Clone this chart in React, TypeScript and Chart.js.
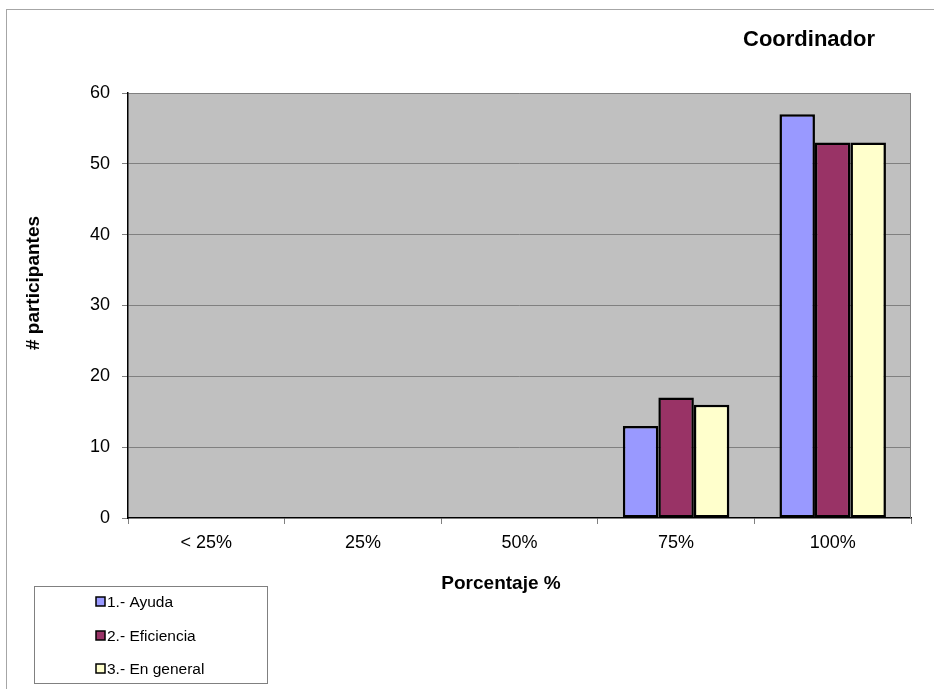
import React, { useEffect, useRef } from "react";
import { Chart, registerables } from "chart.js";

Chart.register(...registerables);

const categories = ["< 25%", "25%", "50%", "75%", "100%"];
const seriesNames = ["1.- Ayuda", "2.- Eficiencia", "3.- En general"];
const ayuda = [0, 0, 0, 13, 57];
const eficiencia = [0, 0, 0, 17, 53];
const enGeneral = [0, 0, 0, 16, 53];
const seriesColors = ["#9999FF", "#993366", "#FFFFCC"];
const yTicks = [0, 10, 20, 30, 40, 50, 60];
const chartTitle = "Coordinador";
const xTitle = "Porcentaje %";
const yTitle = "# participantes";

const FONT = "'Liberation Sans', Arial, sans-serif";

const decorPlugin = {
  id: "decor",
  beforeDraw(chart: any) {
    const { ctx, chartArea } = chart;
    ctx.save();
    ctx.fillStyle = "#ffffff";
    ctx.fillRect(0, 0, chart.width, chart.height);
    ctx.strokeStyle = "#a6a6a6";
    ctx.lineWidth = 1;
    ctx.strokeRect(6.5, 9.5, chart.width + 20, chart.height + 20);
    ctx.fillStyle = "#C0C0C0";
    ctx.fillRect(chartArea.left, chartArea.top, chartArea.right - chartArea.left, chartArea.bottom - chartArea.top);
    ctx.restore();
  },
  afterDraw(chart: any) {
    const { ctx, chartArea } = chart;
    ctx.save();
    ctx.strokeStyle = "#808080";
    ctx.lineWidth = 1;
    ctx.beginPath();
    ctx.moveTo(chartArea.right - 0.5, chartArea.top);
    ctx.lineTo(chartArea.right - 0.5, chartArea.bottom);
    ctx.stroke();

    ctx.fillStyle = "#000";
    ctx.textAlign = "center";
    ctx.textBaseline = "middle";
    ctx.font = `bold 22px ${FONT}`;
    ctx.fillText(chartTitle, 809, 40);

    ctx.font = `bold 19px ${FONT}`;
    ctx.fillText(xTitle, 501, 584);

    ctx.save();
    ctx.translate(34, 283);
    ctx.rotate(-Math.PI / 2);
    ctx.fillText(yTitle, 0, 0);
    ctx.restore();

    ctx.fillStyle = "#ffffff";
    ctx.fillRect(34.5, 586.5, 233, 97);
    ctx.strokeStyle = "#808080";
    ctx.lineWidth = 1;
    ctx.strokeRect(34.5, 586.5, 233, 97);
    const ys = [602, 636, 669];
    ctx.font = `15.5px ${FONT}`;
    ctx.textAlign = "left";
    seriesNames.forEach((name, i) => {
      const y = ys[i];
      ctx.fillStyle = seriesColors[i];
      ctx.fillRect(96, y - 5, 9, 9);
      ctx.strokeStyle = "#000";
      ctx.lineWidth = 1.5;
      ctx.strokeRect(96, y - 5, 9, 9);
      ctx.fillStyle = "#000";
      ctx.fillText(name, 107, y + 1);
    });
    ctx.restore();
  },
};

export default function App() {
  const ref = useRef<HTMLCanvasElement>(null);
  useEffect(() => {
    const data = [ayuda, eficiencia, enGeneral];
    const chart = new Chart(ref.current as HTMLCanvasElement, {
      type: "bar",
      data: {
        labels: categories,
        datasets: seriesNames.map((n, i) => ({
          label: n,
          data: data[i],
          backgroundColor: seriesColors[i],
          borderColor: "#000000",
          borderWidth: 2.5,
          borderSkipped: false,
          categoryPercentage: 0.68,
          barPercentage: 1.0,
        })),
      },
      options: {
        responsive: false,
        animation: false,
        devicePixelRatio: 1,
        layout: { padding: { left: 0, top: 93, right: 23, bottom: 0 } },
        plugins: {
          legend: { display: false },
          title: { display: false },
          tooltip: { enabled: false },
        },
        scales: {
          x: {
            afterFit: (s: any) => {
              s.height = 171;
            },
            grid: {
              display: true,
              drawOnChartArea: false,
              drawTicks: true,
              tickLength: 6,
              tickColor: "#808080",
              offset: true,
            },
            border: { display: true, color: "#000000", width: 1.5 },
            ticks: {
              color: "#000",
              font: { family: FONT, size: 18 },
              padding: 8,
              maxRotation: 0,
            },
          },
          y: {
            min: 0,
            max: 60,
            afterFit: (s: any) => {
              s.width = 128;
            },
            afterBuildTicks: (s: any) => {
              s.ticks = yTicks.map((v) => ({ value: v }));
            },
            grid: {
              color: (c: any) => (c.tick && c.tick.value === 0 ? "rgba(0,0,0,0)" : "#808080"),
              lineWidth: 1,
              drawTicks: true,
              tickLength: 6,
              tickColor: "#808080",
            },
            border: { display: true, color: "#000000", width: 1.5 },
            ticks: {
              color: "#000",
              font: { family: FONT, size: 18 },
              padding: 12,
            },
          },
        },
      },
      plugins: [decorPlugin],
    });
    return () => chart.destroy();
  }, []);
  return (
    <canvas
      ref={ref}
      width={934}
      height={689}
      style={{ position: "fixed", left: 0, top: 0, width: 934, height: 689 }}
    />
  );
}
